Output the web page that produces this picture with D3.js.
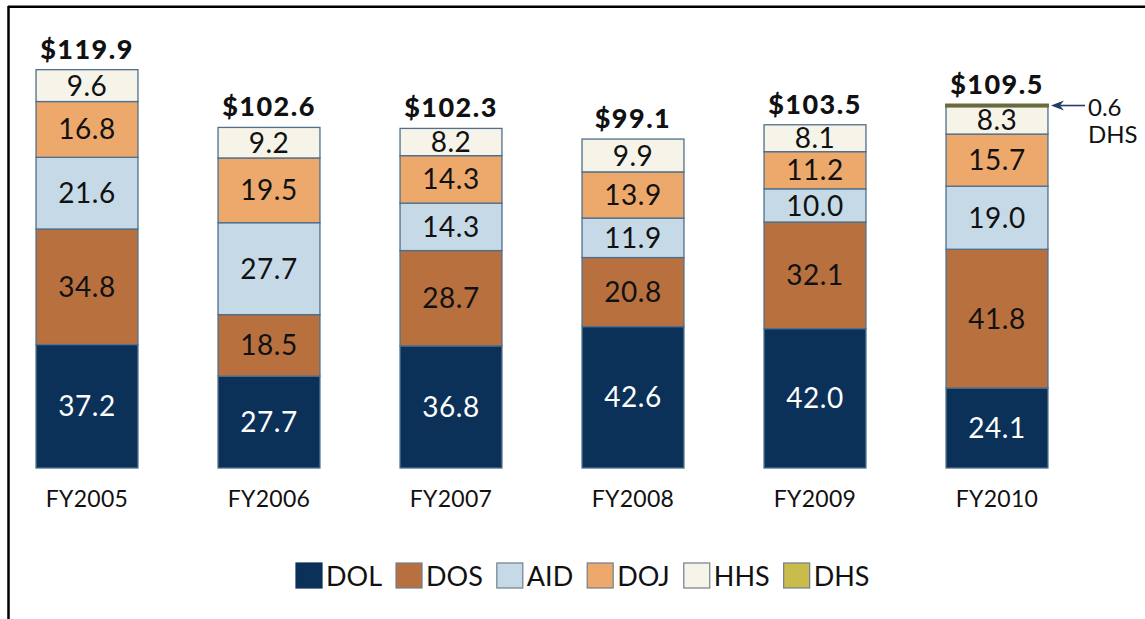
<!DOCTYPE html>
<html>
<head>
<meta charset="utf-8">
<script src="https://cdn.jsdelivr.net/npm/d3@7"></script>
<style>
  html, body { margin: 0; padding: 0; background: #fff; }
  svg { display: block; }
</style>
</head>
<body>
<svg id="chart" width="1145" height="619"></svg>
<script>
// Data (millions of dollars)
const years = ["FY2005", "FY2006", "FY2007", "FY2008", "FY2009", "FY2010"];
const agencies = ["DOL", "DOS", "AID", "DOJ", "HHS", "DHS"];
const dol = [37.2, 27.7, 36.8, 42.6, 42.0, 24.1];
const dos = [34.8, 18.5, 28.7, 20.8, 32.1, 41.8];
const aid = [21.6, 27.7, 14.3, 11.9, 10.0, 19.0];
const doj = [16.8, 19.5, 14.3, 13.9, 11.2, 15.7];
const hhs = [9.6, 9.2, 8.2, 9.9, 8.1, 8.3];
const dhs = [0, 0, 0, 0, 0, 0.6];
const totals = [119.9, 102.6, 102.3, 99.1, 103.5, 109.5];

const colors = {
    DOL: "#0b3158",
    DOS: "#b8703f",
    AID: "#c6d9e6",
    DOJ: "#eca96b",
    HHS: "#f6f4e9",
    DHS: "#c9bc4a"
};
const textColors = { DOL: "#fff", DOS: "#111", AID: "#111", DOJ: "#111", HHS: "#111", DHS: "#111" };

const svg = d3.select("#chart");
const font = "Lato, 'Open Sans', sans-serif";

// table for the stack
const series = { DOL: dol, DOS: dos, AID: aid, DOJ: doj, HHS: hhs, DHS: dhs };
const rows = years.map((y, i) => {
    const r = { year: y, total: totals[i] };
    agencies.forEach(a => r[a] = series[a][i]);
    return r;
});
const stacked = d3.stack().keys(agencies)(rows);

const x = d3.scaleBand()
    .domain(years)
    .range([-4, 1088])
    .paddingInner(0.44)
    .paddingOuter(0.22);

const y = d3.scaleLinear()
    .domain([0, 119.9])
    .range([468, 70]);

// frame (top and left only)
svg.append("line").attr("x1", 8).attr("x2", 1145).attr("y1", 6.7).attr("y2", 6.7)
    .attr("stroke", "#000").attr("stroke-width", 2.5);
svg.append("line").attr("x1", 8.5).attr("x2", 8.5).attr("y1", 6).attr("y2", 619)
    .attr("stroke", "#000").attr("stroke-width", 2.5);

// bars
const layer = svg.append("g").selectAll("g")
    .data(stacked)
    .join("g")
    .attr("fill", d => colors[d.key]);

layer.selectAll("rect")
    .data(d => d.map(p => ({ key: d.key, p })))
    .join("rect")
    .attr("x", d => x(d.p.data.year))
    .attr("y", d => y(d.p[1]))
    .attr("width", x.bandwidth())
    .attr("height", d => y(d.p[0]) - y(d.p[1]))
    .attr("stroke", d => d.key === "DHS" ? "#6b6a3c" : "#4f6f8c")
    .attr("stroke-width", d => d.key === "DHS" ? 2 : 1.3);

// segment labels
layer.selectAll("text")
    .data(d => d.filter(p => p[1] - p[0] >= 2).map(p => ({ key: d.key, p })))
    .join("text")
    .attr("x", d => x(d.p.data.year) + x.bandwidth() / 2)
    .attr("y", d => (y(d.p[0]) + y(d.p[1])) / 2)
    .attr("dy", "0.36em")
    .attr("text-anchor", "middle")
    .attr("font-family", font)
    .attr("font-size", 28)
    .attr("letter-spacing", 0.5)
    .attr("fill", d => textColors[d.key])
    .text(d => (d.p[1] - d.p[0]).toFixed(1));

// totals
svg.append("g").selectAll("text")
    .data(rows)
    .join("text")
    .attr("x", d => x(d.year) + x.bandwidth() / 2)
    .attr("y", d => y(d3.sum(agencies, a => d[a])) - 11)
    .attr("text-anchor", "middle")
    .attr("font-family", font)
    .attr("font-weight", 900)
    .attr("font-size", 27)
    .attr("letter-spacing", 1.5)
    .attr("fill", "#111")
    .text(d => "$" + d.total.toFixed(1));

// category axis
const xAxis = svg.append("g")
    .attr("transform", "translate(0,468)")
    .call(d3.axisBottom(x).tickSize(0).tickPadding(0));
xAxis.select(".domain").remove();
xAxis.selectAll("text")
    .attr("y", 39)
    .attr("dy", 0)
    .attr("font-family", font)
    .attr("font-size", 23)
    .attr("letter-spacing", 0.3)
    .attr("fill", "#111");

// DHS callout on FY2010
const last = rows[rows.length - 1];
const dhsY = y(d3.sum(agencies, a => last[a]) - last.DHS / 2);
const barRight = x(last.year) + x.bandwidth();
svg.append("line")
    .attr("x1", 1085).attr("x2", barRight + 12)
    .attr("y1", dhsY).attr("y2", dhsY)
    .attr("stroke", "#1f3f66").attr("stroke-width", 1.6);
svg.append("path")
    .attr("d", `M${barRight + 3},${dhsY} L${barRight + 16},${dhsY - 5} L${barRight + 12},${dhsY} L${barRight + 16},${dhsY + 5} Z`)
    .attr("fill", "#1f3f66");
svg.append("text")
    .attr("x", 1088).attr("y", dhsY + 10)
    .attr("font-family", font).attr("font-size", 24).attr("fill", "#111")
    .text(last.DHS.toFixed(1));
svg.append("text")
    .attr("x", 1088).attr("y", dhsY + 37)
    .attr("font-family", font).attr("font-size", 24).attr("fill", "#111")
    .text("DHS");

// legend
const legend = svg.append("g");
let lx = 0;
agencies.forEach(a => {
    const g = legend.append("g").attr("transform", `translate(${lx},0)`);
    g.append("rect")
        .attr("x", 0).attr("y", 0).attr("width", 26).attr("height", 25)
        .attr("fill", colors[a])
        .attr("stroke", a === "DOL" ? colors[a] : "#6f7f8f")
        .attr("stroke-width", 1.2);
    const t = g.append("text")
        .attr("x", 30).attr("y", 23)
        .attr("font-family", font).attr("font-size", 27).attr("fill", "#111")
        .text(a);
    lx += 30 + t.node().getComputedTextLength() + 14;
});
legend.attr("transform", `translate(${Math.round(583 - (lx - 14) / 2)},563)`);
</script>
</body>
</html>
